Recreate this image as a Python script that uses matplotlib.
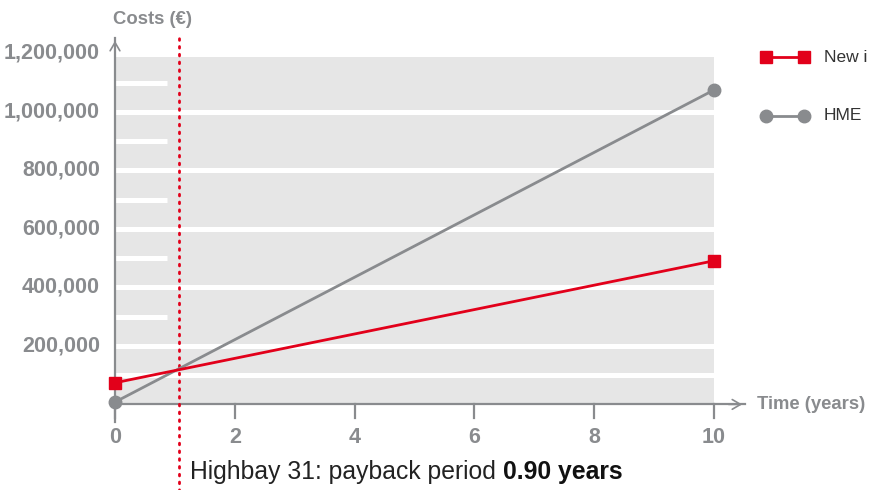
import matplotlib
matplotlib.use('Agg')
import matplotlib.pyplot as plt
import numpy as np

plt.rcParams['font.family'] = ['Liberation Sans', 'DejaVu Sans']

# data
years = [0, 10]
new_i = [74000, 491000]
hme = [8000, 1075000]
payback_x = 1.07
yticks = [200000, 400000, 600000, 800000, 1000000, 1200000]
ytick_labels = ['200,000', '400,000', '600,000', '800,000', '1,000,000', '1,200,000']
xticks = [0, 2, 4, 6, 8, 10]
full_grid = [100000, 200000, 400000, 600000, 800000, 1000000]
short_grid = [300000, 500000, 700000, 900000, 1100000]

RED = '#e2001a'
GRAY = '#898b8e'
BG = '#e6e6e6'

fig = plt.figure(figsize=(8.72, 4.9), dpi=100)
ax = fig.add_axes([115/872, (490-404.4)/490, 630/872, (404.4-38)/490])
ax.set_xlim(0, 10.52)
ax.set_ylim(0, 1253000)
for s in ax.spines.values():
    s.set_visible(False)
ax.set_xticks([])
ax.set_yticks([])
ax.patch.set_alpha(0)

# grey plot area
ax.fill_between([0, 10], 0, 1188000, color=BG, lw=0, zorder=0)
for g in full_grid:
    ax.plot([0, 10], [g, g], color='white', lw=3.6, solid_capstyle='butt', zorder=1)
for g in short_grid:
    ax.plot([0, 0.86], [g, g], color='white', lw=3.6, solid_capstyle='butt', zorder=1)

# axes with arrows
ax.plot([0, 0], [-60000, 1253000], color=GRAY, lw=1.6, clip_on=False, zorder=3)
ax.plot([0, 10.52], [0, 0], color=GRAY, lw=1.6, clip_on=False, zorder=3)
ax.annotate('', xy=(0, 1253000), xytext=(0, 1150000),
            arrowprops=dict(arrowstyle='->,head_length=0.6,head_width=0.35', color=GRAY, lw=1.2),
            annotation_clip=False)
ax.annotate('', xy=(10.52, 0), xytext=(10.2, 0),
            arrowprops=dict(arrowstyle='->,head_length=0.6,head_width=0.35', color=GRAY, lw=1.2),
            annotation_clip=False)

# x ticks
for t in xticks:
    ax.plot([t, t], [0, -48000], color=GRAY, lw=1.6, clip_on=False, zorder=3)
    ax.text(t, -112000, str(t), ha='center', va='center', color=GRAY,
            fontsize=15.5, fontweight='bold')
for v, lab in zip(yticks, ytick_labels):
    ax.text(-0.25, v, lab, ha='right', va='center', color=GRAY,
            fontsize=15.5, fontweight='bold')

ax.text(0.63, 1315000, 'Costs (€)', ha='center', va='center', color=GRAY,
        fontsize=13.3, fontweight='bold', clip_on=False)
ax.text(10.72, 0, 'Time (years)', ha='left', va='center', color=GRAY,
        fontsize=13.3, fontweight='bold', clip_on=False)

# payback line
ax.plot([payback_x, payback_x], [-300000, 1253000], color=RED, lw=2,
        linestyle=(0, (0.6, 2.2)), dash_capstyle='round', clip_on=False, zorder=4)

# series
ax.plot(years, hme, color=GRAY, lw=2, marker='o', markersize=9, zorder=5, clip_on=False)
ax.plot(years, new_i, color=RED, lw=2, marker='s', markersize=9, zorder=6, clip_on=False)

# legend
fig.lines.append(plt.Line2D([766/872, 804/872], [1-57/490, 1-57/490], color=RED, lw=2,
                            marker='s', markersize=9, transform=fig.transFigure))
fig.lines.append(plt.Line2D([766/872, 804/872], [1-116/490, 1-116/490], color=GRAY, lw=2,
                            marker='o', markersize=9, transform=fig.transFigure))
fig.text(824/872, 1-57/490, 'New i', ha='left', va='center', color='#333333', fontsize=12.5)
fig.text(824/872, 1-116/490, 'HME', ha='left', va='center', color='#333333', fontsize=12.5)

# caption
t1 = fig.text(190/872, 1-472/490, 'Highbay 31: payback period ', ha='left', va='center',
              color='#222222', fontsize=17.8)
fig.canvas.draw()
bb = t1.get_window_extent()
fig.text(bb.x1/872, 1-472/490, '0.90 years', ha='left', va='center',
         color='#111111', fontsize=17.8, fontweight='bold')

fig.savefig('out.png', dpi=100)
